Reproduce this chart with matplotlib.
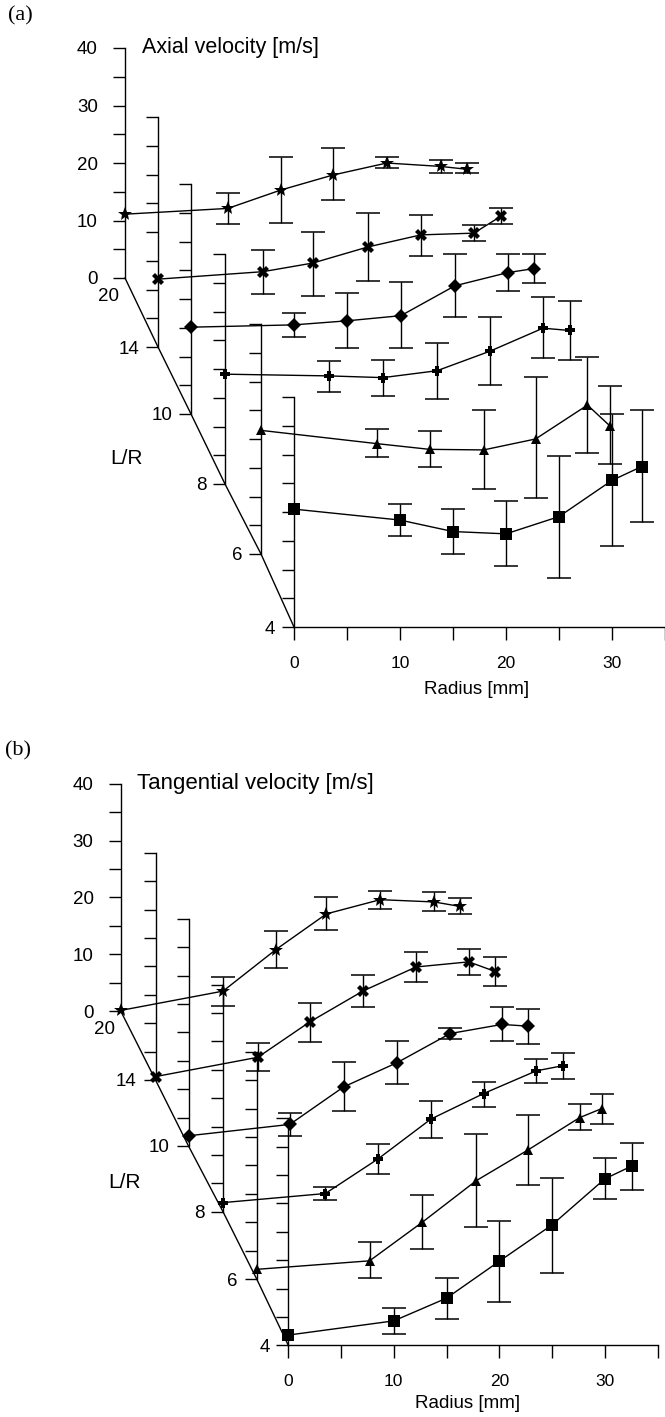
import matplotlib
matplotlib.use("Agg")
import matplotlib.pyplot as plt
from matplotlib.lines import Line2D

W, H = 665, 1417
plt.rcParams['font.family'] = ['Liberation Sans', 'DejaVu Sans']

depth_labels = ["4", "6", "8", "10", "14", "20"]
markers = ["s", "^", "P", "D", "X", "*"]
marker_sizes = [8, 7.5, 7.5, 7, 8, 10]
radius_ticks = [0, 5, 10, 15, 20, 25, 30, 35]
radius_labels = ["0", "", "10", "", "20", "", "30", ""]
velocity_ticks = [0, 5, 10, 15, 20, 25, 30, 35, 40]
velocity_labels = ["0", "", "10", "", "20", "", "30", "", "40"]

# panel a, one row per L/R from 4 to 20, first point has no error bar
axial_r = [
    [0, 10, 15, 20, 25, 30, 32.8],
    [0, 10.9, 15.9, 21, 25.9, 30.8, 32.9],
    [0, 9.8, 14.9, 20, 25, 30, 32.5],
    [0, 9.7, 14.7, 19.8, 24.9, 29.9, 32.4],
    [0, 9.9, 14.6, 19.8, 24.8, 29.8, 32.4],
    [0, 9.7, 14.7, 19.6, 24.7, 29.8, 32.3],
]
axial_v = [
    [20.5, 18.6, 16.6, 16.2, 19.2, 25.5, 27.9],
    [21.5, 19.2, 18.2, 18.1, 20, 25.9, 22.3],
    [19.1, 18.8, 18.5, 19.7, 23.1, 27.1, 26.7],
    [15.1, 15.5, 16.2, 17.1, 22.3, 24.6, 25.3],
    [11.8, 13.1, 14.6, 17.4, 19.5, 19.8, 22.8],
    [11.1, 12.1, 15.3, 17.9, 20, 19.4, 18.9],
]
axial_hi = [
    [None, 21.4, 20.6, 21.9, 29.7, 37, 37.7],
    [None, 21.8, 21.4, 25.1, 30.8, 34.3, 29.2],
    [None, 21.4, 21.6, 24.6, 29, 32.6, 31.8],
    [None, 17.5, 21.1, 22.9, 27.8, 27.8, 27.8],
    [None, 16.9, 20, 23.3, 23, 21.3, 24.2],
    [None, 14.8, 21, 22.6, 21.1, 20.5, 20],
]
axial_lo = [
    [None, 15.8, 12.7, 10.6, 8.6, 14.1, 18.3],
    [None, 16.9, 15.1, 11.3, 9.7, 17.5, 15.6],
    [None, 16, 15.3, 14.8, 17.2, 21.9, 21.6],
    [None, 13.4, 11.4, 11.5, 16.8, 21.4, 22.8],
    [None, 9.3, 8.9, 11.5, 15.9, 18.4, 21.4],
    [None, 9.4, 9.6, 13.6, 19.1, 18.3, 18.2],
]

# panel b
tangential_r = [
    [0, 10, 15, 20, 25, 30, 32.6],
    [0, 10.7, 15.7, 20.8, 25.7, 30.6, 32.7],
    [0, 9.7, 14.7, 19.7, 24.7, 29.7, 32.2],
    [0, 9.6, 14.7, 19.8, 24.8, 29.7, 32.2],
    [0, 9.7, 14.6, 19.7, 24.7, 29.7, 32.2],
    [0, 9.7, 14.7, 19.5, 24.6, 29.7, 32.2],
]
tangential_v = [
    [1.8, 4.3, 8.3, 14.8, 21.2, 29.3, 31.6],
    [1.7, 3.2, 10, 17.3, 22.7, 28.4, 30],
    [1.6, 3.2, 9.3, 16.3, 20.8, 24.8, 25.7],
    [1.8, 3.8, 10.4, 14.7, 19.8, 21.4, 21.1],
    [0.6, 4, 10.2, 15.7, 19.9, 20.8, 19.1],
    [0.1, 3.5, 10.8, 17.1, 19.6, 19.2, 18.4],
]
tangential_hi = [
    [None, 6.5, 11.9, 21.9, 29.5, 32.9, 35.7],
    [None, 6.5, 14.8, 25.6, 28.9, 30.8, 32.6],
    [None, 4.4, 11.9, 19.5, 22.9, 26.9, 28],
    [None, 5.8, 14.8, 18.4, 20.8, 24.4, 24.2],
    [None, 6.5, 13.6, 18.4, 22.6, 23.1, 21.7],
    [None, 6, 14.1, 20.1, 21.2, 20.9, 19.9],
]
tangential_lo = [
    [None, 2, 4.7, 7.6, 12.8, 25.8, 27.4],
    [None, 0.2, 5.3, 9.1, 16.6, 26.3, 27.3],
    [None, 2, 6.6, 12.9, 18.5, 22.7, 23.4],
    [None, 1.8, 6.1, 11, 18.8, 18.4, 18],
    [None, 1.6, 6.7, 12.9, 17.2, 18.5, 16.6],
    [None, 0.9, 7.5, 14.3, 17.9, 17.6, 17],
]

fig = plt.figure(figsize=(W / 100, H / 100), dpi=100)


def px_text(x, y, s, **kw):
    kw.setdefault("ha", "center")
    kw.setdefault("va", "center")
    fig.text(x / W, 1 - y / H, s, **kw)


def draw_panel(origins, sx, sy, rs, vs, his, los):
    # every L/R level gets its own transparent axes, shifted along the depth line
    for i, (x0, y0) in enumerate(origins):
        ax = fig.add_axes([x0 / W, 1 - y0 / H, 35 * sx / W, 40 * sy / H])
        ax.set_facecolor("none")
        ax.set_xlim(0, 35)
        ax.set_ylim(0, 40)
        for s in ["top", "right"]:
            ax.spines[s].set_visible(False)
        ax.spines["left"].set_linewidth(1.0)
        ax.spines["bottom"].set_linewidth(1.0)

        back = i == len(origins) - 1
        ax.set_yticks(velocity_ticks)
        if back:
            ax.set_yticklabels(velocity_labels, fontsize=13.5)
            ax.tick_params(axis="y", length=9, width=1.0, pad=10.5)
            ax.annotate(depth_labels[i], xy=(0, 0), xytext=(-12, -13),
                        textcoords="offset points", ha="center", va="center", fontsize=13.5)
        else:
            ax.set_yticklabels([depth_labels[i]] + [""] * 8, fontsize=13.5)
            ax.tick_params(axis="y", length=9, width=1.0, pad=4.5)

        if i == 0:
            ax.set_xticks(radius_ticks)
            ax.set_xticklabels(radius_labels, fontsize=12.5)
            ax.tick_params(axis="x", length=9, width=1.0, pad=12)
        else:
            ax.set_xticks([])
            ax.spines["bottom"].set_visible(False)

        hi = [float("nan") if h is None else h - v for h, v in zip(his[i], vs[i])]
        lo = [float("nan") if l is None else v - l for l, v in zip(los[i], vs[i])]
        bars = ax.errorbar(rs[i], vs[i], yerr=[lo, hi], color="black", lw=1.0,
                           elinewidth=1.0, capsize=8.5, capthick=1.1,
                           marker=markers[i], ms=marker_sizes[i])
        bars.lines[0].set_markeredgewidth(0)
        for artist in bars.get_children():
            artist.set_clip_on(False)

    xs = [p[0] / W for p in origins]
    ys = [1 - p[1] / H for p in origins]
    fig.add_artist(Line2D(xs, ys, color="black", lw=1.0, transform=fig.transFigure))


origins_a = [(294, 627), (261, 554), (225, 484), (191, 414), (158, 347), (125, 278)]
origins_b = [(288.3, 1345.3), (256.7, 1279), (223, 1211.7), (188.5, 1146), (155.5, 1080), (120.7, 1011)]

draw_panel(origins_a, 10.6, 5.75, axial_r, axial_v, axial_hi, axial_lo)
draw_panel(origins_b, 10.55, 5.68, tangential_r, tangential_v, tangential_hi, tangential_lo)

px_text(20, 16, "(a)", family="Liberation Serif", fontsize=16)
px_text(18, 751, "(b)", family="Liberation Serif", fontsize=16)
px_text(142, 48, "Axial velocity [m/s]", ha="left", fontsize=15.5)
px_text(137, 783, "Tangential velocity [m/s]", ha="left", fontsize=16)
px_text(127, 458, "L/R", fontsize=15)
px_text(125, 1183, "L/R", fontsize=15)
px_text(477, 689, "Radius [mm]", fontsize=13.5)
px_text(468, 1404, "Radius [mm]", fontsize=13.5)

fig.savefig("out.png", dpi=100)
